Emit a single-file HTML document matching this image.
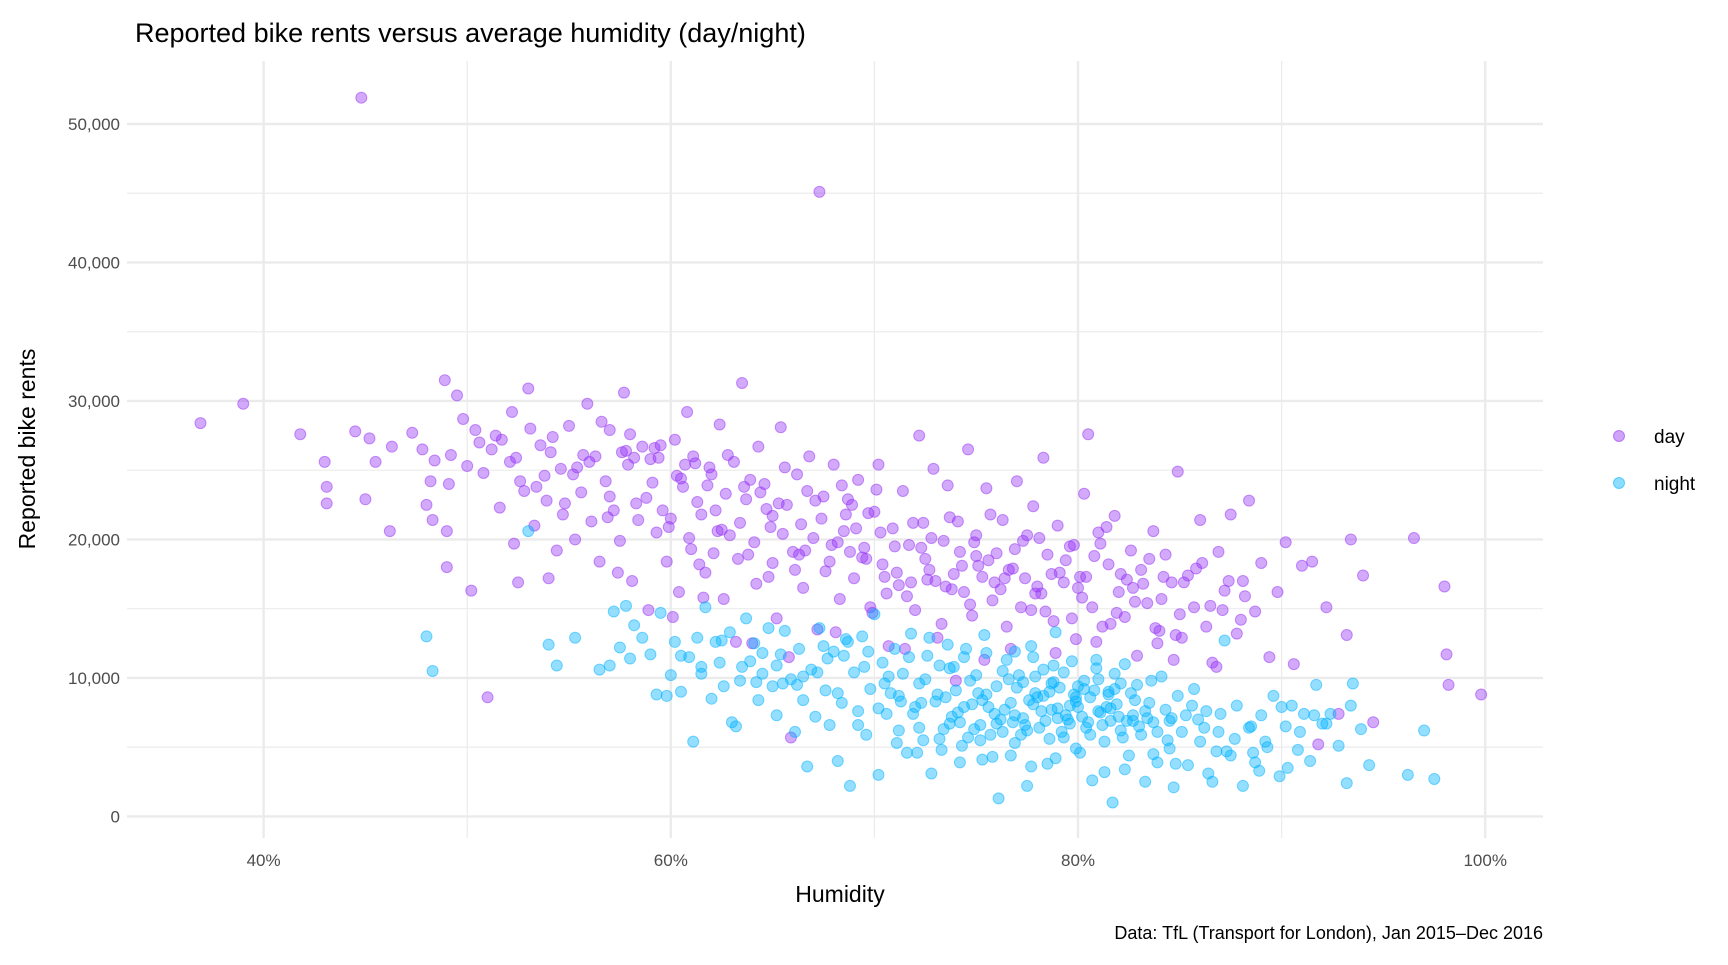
<!DOCTYPE html>
<html><head><meta charset="utf-8">
<style>
body{margin:0;background:#fff;}
svg text{font-family:"Liberation Sans",sans-serif;}
</style></head>
<body>
<svg id="chart" width="1728" height="960" xmlns="http://www.w3.org/2000/svg">
<text x="135" y="42" font-size="27" fill="#000">Reported bike rents versus average humidity (day/night)</text>
<g id="grid"></g>
<g id="yticks"></g>
<g id="xticks"></g>
<g id="points"></g>
<text x="840" y="902" font-size="23" text-anchor="middle" fill="#000">Humidity</text>
<text transform="translate(35,449) rotate(-90)" font-size="23" text-anchor="middle" fill="#000">Reported bike rents</text>
<text x="1543" y="939" font-size="18" text-anchor="end" fill="#000">Data: TfL (Transport for London), Jan 2015–Dec 2016</text>
<g>
<g><circle cx="1619" cy="436" r="5.5" fill="rgba(150,50,245,0.45)" stroke="rgba(150,50,245,0.55)"/><text x="1654" y="443" font-size="19" fill="#000">day</text></g>
<g><circle cx="1619" cy="483" r="5.5" fill="rgba(0,178,255,0.45)" stroke="rgba(0,178,255,0.55)"/><text x="1654" y="490" font-size="19" fill="#000">night</text></g>
</g>
</svg>
<script>
const xTicks=[40,60,80,100];
const xMinor=[50,70,90];
const yTicks=[0,10000,20000,30000,40000,50000];
const yMinor=[5000,15000,25000,35000,45000];
const dayHum=[36.9,39.0,41.8,43,43.1,43.1,44.5,44.8,45,45.2,45.5,46.2,46.3,47.3,47.8,48,48.2,48.4,48.3,48.9,49,49,49.1,49.2,49.5,49.8,50,50.2,50.4,50.8,51,51.2,51.6,51.7,52.2,52.3,52.4,52.5,52.8,53,53.1,53.3,53.6,53.8,54,54.2,54.4,54.6,54.8,55,55.3,55.6,55.9,56.1,56.3,56.5,56.8,57,57.2,57.5,57.7,57.9,58.1,58.3,58.6,58.9,59.1,59.3,59.5,59.8,60,60.2,60.4,60.6,60.8,61,61.2,61.5,61.7,62,62.2,62.4,62.6,62.9,63.1,63.3,63.5,63.7,64,64.1,64.3,64.6,64.8,65,65.2,65.4,65.7,65.9,66,66.2,66.5,66.8,67,67.2,67.3,67.5,67.8,68,68.3,68.5,68.7,69,69.2,69.5,69.8,70,70.2,70.4,70.7,70.9,71.2,71.4,71.7,72,72.2,72.4,72.6,72.9,73.1,73.4,73.6,73.8,74.1,74.3,74.6,74.8,75,75.3,75.5,75.8,76,76.3,76.5,76.8,77,77.2,77.5,77.8,78,78.3,78.5,78.8,79,79.3,79.6,79.9,80.1,80.3,80.5,80.7,81,81.2,81.5,81.8,82,82.3,82.6,82.9,83.1,83.4,83.7,84,84.3,84.6,84.9,85.1,85.4,85.7,86,86.3,86.6,86.9,87.2,87.5,87.8,88.1,88.4,88.7,89,89.4,89.8,90.2,90.6,91,91.5,91.8,92.2,92.8,93.2,93.4,94,94.5,96.5,98,98.1,98.2,99.8,
56,57,58,59,59.6,60.3,61.1,61.9,62.7,63.4,64.4,65,65.6,66.4,67.1,67.9,68.4,69.1,69.7,70.5,71,71.8,72.5,73,73.7,74.4,75.1,75.7,76.2,76.9,77.4,78.1,78.7,79.4,80,80.8,81.4,82.1,82.8,83.5,84.2,85,85.8,86.5,87.4,88.2,55.2,54.1,53.4,52.1,51.4,50.6,58.4,60.9,62.1,63.9,65.3,66.7,68.8,70.1,72.8,74.9,77.7,79.7,81.9,83.9,66.1,64.2,61.4,59.9,57.4,68.1,71.5,73.3,76.7,78.9,80.9,84.7,86.8,63.2,61.6,60.1,65.8,69.9,75.4,74,
52.6,53.9,55.7,56.9,57.8,58.8,59.4,60.5,61.3,62.3,62.8,63.6,64.7,65.5,66.3,67.4,68.2,68.9,69.6,70.3,71.1,71.9,72.7,73.5,74.2,75,75.9,76.6,77.3,78.2,79.1,80.2,81.1,82.4,83.2,84.1,85.2,86.1,87.1,88,58.2,59.2,60.7,61.8,62.5,63.8,64.9,66.6,67.6,68.6,69.4,70.6,71.6,72.3,73.9,74.7,75.6,76.4,77.9,78.4,79.8,80.4,81.6,82.7,83.8,84.8,57.6,56.6,55.4,54.7];
const dayRents=[28.4,29.8,27.6,25.6,23.8,22.6,27.8,51.9,22.9,27.3,25.6,20.6,26.7,27.7,26.5,22.5,24.2,25.7,21.4,31.5,20.6,18,24,26.1,30.4,28.7,25.3,16.3,27.9,24.8,8.6,26.5,22.3,27.2,29.2,19.7,25.9,16.9,23.5,30.9,28,21,26.8,24.6,17.2,27.4,19.2,25.1,22.6,28.2,20,23.4,29.8,21.3,26,18.4,24.2,27.9,22.1,19.9,30.6,25.4,17,22.6,26.7,14.9,24.1,20.5,26.8,18.4,21.5,27.2,16.2,23.8,29.2,19.3,25.5,21.8,17.6,24.7,22.1,28.3,15.7,20.3,25.6,18.6,31.3,22.9,12.5,19.8,26.7,24,17.3,21.7,14.3,28.1,22.5,5.7,19.1,24.7,16.5,26,20.1,13.5,45.1,23.1,18.4,25.4,15.7,20.6,22.9,17.2,24.3,19.4,15.1,22,25.4,18.2,12.3,20.8,16.7,23.5,19.6,14.9,27.5,21.2,17.1,25.1,12.9,19.9,23.9,16.4,21.3,18.1,26.5,14.5,20.3,17.3,23.7,15.6,19,21.4,13.7,17.9,24.2,15.1,20.3,22.4,16.6,25.9,18.9,14.1,21,16.9,19.5,12.8,17.3,23.3,27.6,15.1,20.5,13.7,18.2,21.7,16.2,14.4,19.2,11.6,17.8,15.4,20.6,13.4,18.9,16.9,24.9,12.9,17.4,15.1,21.4,13.7,11.1,19.1,16.3,21.8,13.2,17,22.8,14.8,18.3,11.5,16.2,19.8,11,18.1,18.4,5.2,15.1,7.4,13.1,20,17.4,6.8,20.1,16.6,11.7,9.5,8.8,
25.6,23.1,27.6,25.8,22.1,24.6,26,25.2,23.3,21.2,23.4,18.3,25.2,21.1,22.8,19.6,23.9,20.8,21.9,17.3,19.5,16.9,18.6,17,21.6,16.2,18.1,21.8,16.4,19.3,17.2,20.1,17.5,18.5,16.5,18.8,20.9,17.5,15.5,18.6,17.3,14.6,17.9,15.2,17,15.9,24.7,26.3,23.8,25.6,27.5,27,21.4,20.1,19,24.3,22.6,23.5,19.1,23.6,20.1,19.8,14.9,14.3,14.7,12.5,17.8,16.8,18.2,20.9,17.6,13.3,12.1,13.9,12.1,11.8,12.6,11.3,10.8,12.6,15.8,14.4,11.5,14.7,11.3,9.8,
24.2,22.8,26.1,21.6,26.4,23,25.9,24.4,22.7,20.6,26.1,23.8,22.2,20.4,18.9,21.5,19.8,22.5,18.6,20.5,17.6,21.2,17.8,16.6,19.1,18.8,16.9,17.8,19.9,16.1,17.6,15.8,19.7,17.1,16.8,15.7,16.9,18.3,14.9,14.2,25.9,26.6,25.4,23.9,20.7,18.9,20.9,19.2,17.7,21.8,18.7,16.1,15.9,19.4,17.5,15.3,18.5,17.2,16.1,14.8,19.6,17.3,13.9,16.5,13.6,13.1,26.3,28.5,25.2,21.8];
const nightHum=[48,48.3,53,54,54.4,55.3,56.5,57,57.2,57.5,57.8,58,58.2,58.6,59,59.3,59.5,59.8,60,60.2,60.5,60.9,61.1,61.3,61.5,61.7,62,62.2,62.4,62.6,62.9,63,63.2,63.4,63.7,63.9,64.1,64.3,64.5,64.8,65,65.2,65.4,65.6,65.9,66.1,66.3,66.5,66.7,66.9,67.1,67.3,67.6,67.8,68,68.2,68.4,68.6,68.8,69,69.2,69.4,69.6,69.8,70,70.2,70.4,70.6,70.8,71,71.2,71.4,71.6,71.8,72,72.2,72.4,72.6,72.8,73,73.2,73.4,73.6,73.8,74,74.2,74.4,74.6,74.8,75,75.2,75.4,75.6,75.8,76,76.1,76.3,76.5,76.7,76.9,77.1,77.3,77.5,77.7,77.9,78.1,78.3,78.5,78.7,78.9,79.1,79.3,79.5,79.7,79.9,80.1,80.3,80.5,80.7,80.9,81.1,81.3,81.5,81.7,81.9,82.1,82.3,82.5,82.7,82.9,83.1,83.3,83.5,83.7,83.9,84.1,84.3,84.5,84.7,84.9,85.1,85.4,85.7,86,86.3,86.6,86.9,87.2,87.5,87.8,88.1,88.4,88.7,89,89.3,89.6,89.9,90.2,90.5,90.8,91.1,91.4,91.7,92,92.4,92.8,93.2,93.5,93.9,94.3,96.2,97,97.5,93.4,90.3,88.9,86.8,85.9,84.4,83.4,82.2,81.2,80.2,79.2,78.2,77.2,76.2,75.2,74.2,73.2,72.2,71.2,70.2,69.2,68.2,67.2,66.2,65.2,64.2,75.5,76.6,77.6,78.6,79.6,80.6,81.6,82.6,83.6,84.6,85.6,77.8,78.8,80,81,74.7,73.7,72.7,71.7,75.9,76.8,79,81.8,83,74.1,73.5,72.3,70.7,69.7,68.7,67.7,
74.4,74.9,75.3,75.7,76.4,77,77.4,77.8,78.4,78.8,79.4,79.8,80.4,80.8,81.4,81.8,82.4,82.8,76,76.9,77.5,78,78.6,79,79.6,80,80.6,81,81.6,82,73.9,74.5,75.1,75.5,76.3,76.9,77.3,77.9,78.3,78.7,79.3,79.9,80.3,80.9,81.5,82.1,82.7,83.3,83.9,84.5,70.5,71.3,71.9,72.5,73.1,73.7,69.5,68.5,67.5,66.5,65.5,64.5,63.5,62.5,61.5,60.5,85.3,86.2,87,87.7,88.5,89.2,90,90.9,91.6,92.2,71.1,72.1,73.3,74.3,75.3,76.7,77.7,78.9,79.9,81.3,82.3,83.7,84.8,86.4,87.3,88.6];
const nightRents=[13,10.5,20.6,12.4,10.9,12.9,10.6,10.9,14.8,12.2,15.2,11.4,13.8,12.9,11.7,8.8,14.7,8.7,10.2,12.6,9,11.5,5.4,12.9,10.8,15.1,8.5,12.6,11.1,9.4,13.3,6.8,6.5,9.8,14.3,11.2,12.5,8.4,10.3,13.6,9.4,7.3,11.7,13.4,9.9,6.1,12.1,8.4,3.6,10.6,7.2,13.6,9.1,6.6,11.9,4,8.2,12.8,2.2,10.4,7.6,13,5.9,9.2,14.6,3,11.1,7.4,8.9,12.1,6.2,10.3,4.6,13.2,7.9,9.6,5.5,11.6,3.1,8.3,10.9,6.3,12.4,7.2,9.1,3.9,11.5,5.7,8.1,10.2,6.6,13.1,7.9,4.3,9.4,1.3,6.1,11.3,8.2,5.3,10.2,7.1,2.2,12.3,8.9,6.4,10.6,3.8,7.7,13.3,9.3,5.7,7,11.2,8.3,4.6,9.8,6.8,2.6,10.7,7.5,5.4,9,1,8.1,6.2,11,4.4,7.3,9.5,5.9,2.5,8.2,6.8,3.9,10.1,7.7,4.9,2.1,8.7,6.1,3.7,9.2,5.4,7.6,2.5,6.1,12.7,4.4,8,2.2,6.4,3.9,7.3,5,8.7,2.9,6.5,8,4.8,7.4,4,9.5,6.7,7.4,5.1,2.4,9.6,6.3,3.7,3,6.2,2.7,8,3.5,3.3,4.7,7,5.5,7.1,5.7,6.6,7.2,6.1,7.6,5.9,7,5.5,6.8,5.6,6.4,8.7,7.8,6.6,8.9,10.4,9.5,10.9,9.7,8.8,9.9,8.4,9,8,8.6,7.8,8.9,9.8,7.1,8,11.5,10.9,9.4,9.9,9.8,10.7,12.9,11.5,7.4,6.8,7.1,9.2,6.5,7.5,8.6,8.2,10.1,11.9,12.6,11.4,
7.9,6.3,8.4,5.9,7.7,9.3,6.6,8.1,6.9,9.7,7.3,8.8,6.4,9.1,7.9,10.3,6.9,8.4,6.7,7.3,6.2,8.6,5.6,7.8,6.7,7.9,5.9,7.6,6.9,7.2,10.8,12.1,8.9,11.8,10.5,11.9,9.7,10.1,8.7,9.6,10.4,8.6,9.2,11.3,8.8,9.6,6.9,7.6,6.1,6.9,9.6,8.3,7.4,9.9,8.8,6.7,10.8,11.6,12.3,10.1,9.6,11.8,10.8,12.7,10.3,11.6,7.3,6.4,7.4,5.6,6.5,5.4,7.9,6.1,7.3,6.7,5.3,4.6,4.8,5.1,4.1,4.4,3.6,4.2,4.9,3.2,3.4,4.5,3.8,3.1,4.7,4.6];

const L=127,R=1543,T=61,B=838;
function xs(h){return 263.6+(h-40)*20.36;}
function ys(v){return 816.4-v*0.013848;}
const NS="http://www.w3.org/2000/svg";
function mk(tag,attrs,parent){const e=document.createElementNS(NS,tag);for(const k in attrs)e.setAttribute(k,attrs[k]);parent.appendChild(e);return e;}
const grid=document.getElementById('grid'),yt=document.getElementById('yticks'),xt=document.getElementById('xticks'),pts=document.getElementById('points');
yMinor.forEach(v=>{const l=mk('line',{x1:L,x2:R,y1:ys(v),y2:ys(v),stroke:'#ebebeb','stroke-width':1.2},grid);

});
xMinor.forEach(v=>{const l=mk('line',{x1:xs(v),x2:xs(v),y1:T,y2:B,stroke:'#ebebeb','stroke-width':1.2},grid);

});
yTicks.forEach(v=>{const l=mk('line',{x1:L,x2:R,y1:ys(v),y2:ys(v),stroke:'#ebebeb','stroke-width':2.4},grid);


const t=mk('text',{x:120,y:ys(v)+6,'font-size':17,'text-anchor':'end',fill:'#4d4d4d'},yt);
t.textContent=v.toLocaleString('en-US');

});
xTicks.forEach(v=>{const l=mk('line',{x1:xs(v),x2:xs(v),y1:T,y2:B,stroke:'#ebebeb','stroke-width':2.4},grid);


const t=mk('text',{x:xs(v),y:866,'font-size':17,'text-anchor':'middle',fill:'#4d4d4d'},xt);
t.textContent=v+'%';

});
dayHum.forEach((h,i)=>{const c=mk('circle',{cx:xs(h),cy:ys(dayRents[i]*1000),r:5.5,fill:'rgba(150,50,245,0.42)',stroke:'rgba(150,50,245,0.5)','stroke-width':1},pts);

});
nightHum.forEach((h,i)=>{const c=mk('circle',{cx:xs(h),cy:ys(nightRents[i]*1000),r:5.5,fill:'rgba(0,178,255,0.42)',stroke:'rgba(0,178,255,0.5)','stroke-width':1},pts);

});
</script>
</body></html>
